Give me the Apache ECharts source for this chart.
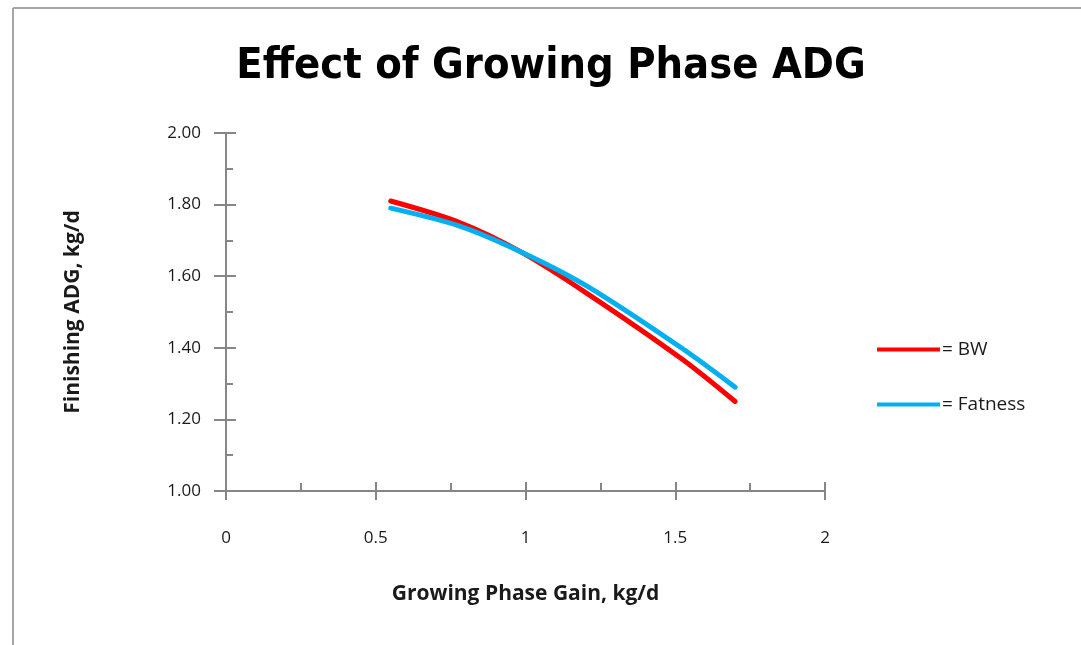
<!DOCTYPE html>
<html lang="en">
<head>
	<meta charset="UTF-8">
	<title>Effect of Growing Phase ADG</title>
	<script src="https://cdn.jsdelivr.net/npm/echarts@6/dist/echarts.min.js"></script>
	<style>
		html, body { margin:0; padding:0; background:#fff; }
	</style>
</head>
<body>
	<div id="chart" style="width:1081px; height:645px;"></div>
	<script>
	// data
	var growGain = [0.55, 0.78, 0.98, 1.2, 1.52, 1.7];
	var bwAdg = [1.81, 1.75, 1.67, 1.555, 1.37, 1.25];
	var fatAdg = [1.79, 1.74, 1.67, 1.575, 1.40, 1.29];
	var seriesNames = ['BW', 'Fatness'];
	var seriesColors = ['#FF0000', '#00B0F0'];

	function pairs(xs, ys) {
		var res = [];
		for (var i = 0; i < xs.length; i++) res.push([xs[i], ys[i]]);
		return res;
	}

	var titleFont = "'Liberation Sans Narrow', 'DejaVu Sans Condensed', sans-serif";
	var font = "'Open Sans', 'Noto Sans', sans-serif";
	var axisGray = '#868686';

	var myChart = echarts.init(document.getElementById('chart'));
	var option = {
		backgroundColor: '#fff',
		animation: false,
		title: {
			text: 'Effect of Growing Phase ADG',
			left: 546,
			textAlign: 'center',
			top: 40,
			textStyle: { fontFamily: titleFont, fontWeight: 'bold', fontSize: 43, color: '#000' }
		},
		graphic: [
			{ type: 'line', shape: { x1: 13, y1: 8, x2: 1081, y2: 8 }, style: { stroke: '#a6a6a6', lineWidth: 2 } },
			{ type: 'line', shape: { x1: 13, y1: 8, x2: 13, y2: 645 }, style: { stroke: '#a6a6a6', lineWidth: 2 } }
		],
		legend: {
			orient: 'vertical',
			left: 872,
			top: 335,
			itemWidth: 63,
			itemHeight: 4,
			itemGap: 36,
			icon: 'rect',
			formatter: '= {name}',
			textStyle: { fontFamily: font, fontSize: 19, color: '#1a1a1a', padding: [0, 0, 0, -3] },
			data: seriesNames
		},
		grid: { left: 226, right: 256, top: 133, bottom: 154 },
		xAxis: [{
			type: 'value', min: 0, max: 2, interval: 0.5,
			name: 'Growing Phase Gain, kg/d',
			nameLocation: 'middle', nameGap: 93,
			nameTextStyle: { fontFamily: font, fontWeight: 'bold', fontSize: 21, color: '#1a1a1a' },
			axisLine: { lineStyle: { color: axisGray, width: 2 } },
			axisTick: { show: true, length: 9, lineStyle: { color: axisGray, width: 2 } },
			axisLabel: { margin: 39, fontFamily: font, fontSize: 17, color: '#1a1a1a',
				formatter: function (v) { return String(v); } },
			splitLine: { show: false }
		}, {
			type: 'value', min: 0, max: 2, interval: 0.5, position: 'bottom',
			axisLine: { show: false },
			axisTick: { show: true, inside: true, length: 9, lineStyle: { color: axisGray, width: 2 } },
			minorTick: { show: true, splitNumber: 2, length: 8, lineStyle: { color: axisGray, width: 2 } },
			axisLabel: { show: false },
			splitLine: { show: false }
		}],
		yAxis: [{
			type: 'value', min: 1, max: 2, interval: 0.2,
			name: 'Finishing ADG, kg/d',
			nameLocation: 'middle', nameGap: 142, nameRotate: 90,
			nameTextStyle: { fontFamily: font, fontWeight: 'bold', fontSize: 21, color: '#1a1a1a' },
			axisLine: { show: true, lineStyle: { color: axisGray, width: 2 } },
			axisTick: { show: true, length: 12, lineStyle: { color: axisGray, width: 2 } },
			axisLabel: { margin: 25, fontFamily: font, fontSize: 17, color: '#1a1a1a',
				formatter: function (v) { return v.toFixed(2); } },
			splitLine: { show: false }
		}, {
			type: 'value', min: 1, max: 2, interval: 0.2, position: 'left',
			axisLine: { show: false },
			axisTick: { show: true, inside: true, length: 10, lineStyle: { color: axisGray, width: 2 } },
			minorTick: { show: true, splitNumber: 2, length: 7, lineStyle: { color: axisGray, width: 2 } },
			axisLabel: { show: false },
			splitLine: { show: false }
		}],
		series: [{
			name: seriesNames[0],
			type: 'line',
			smooth: 0.3,
			symbol: 'none',
			color: seriesColors[0],
			lineStyle: { width: 5, cap: 'round' },
			data: pairs(growGain, bwAdg)
		}, {
			name: seriesNames[1],
			type: 'line',
			smooth: 0.3,
			symbol: 'none',
			color: seriesColors[1],
			lineStyle: { width: 5, cap: 'round' },
			data: pairs(growGain, fatAdg)
		}]
	};
	myChart.setOption(option);
	</script>
</body>
</html>
